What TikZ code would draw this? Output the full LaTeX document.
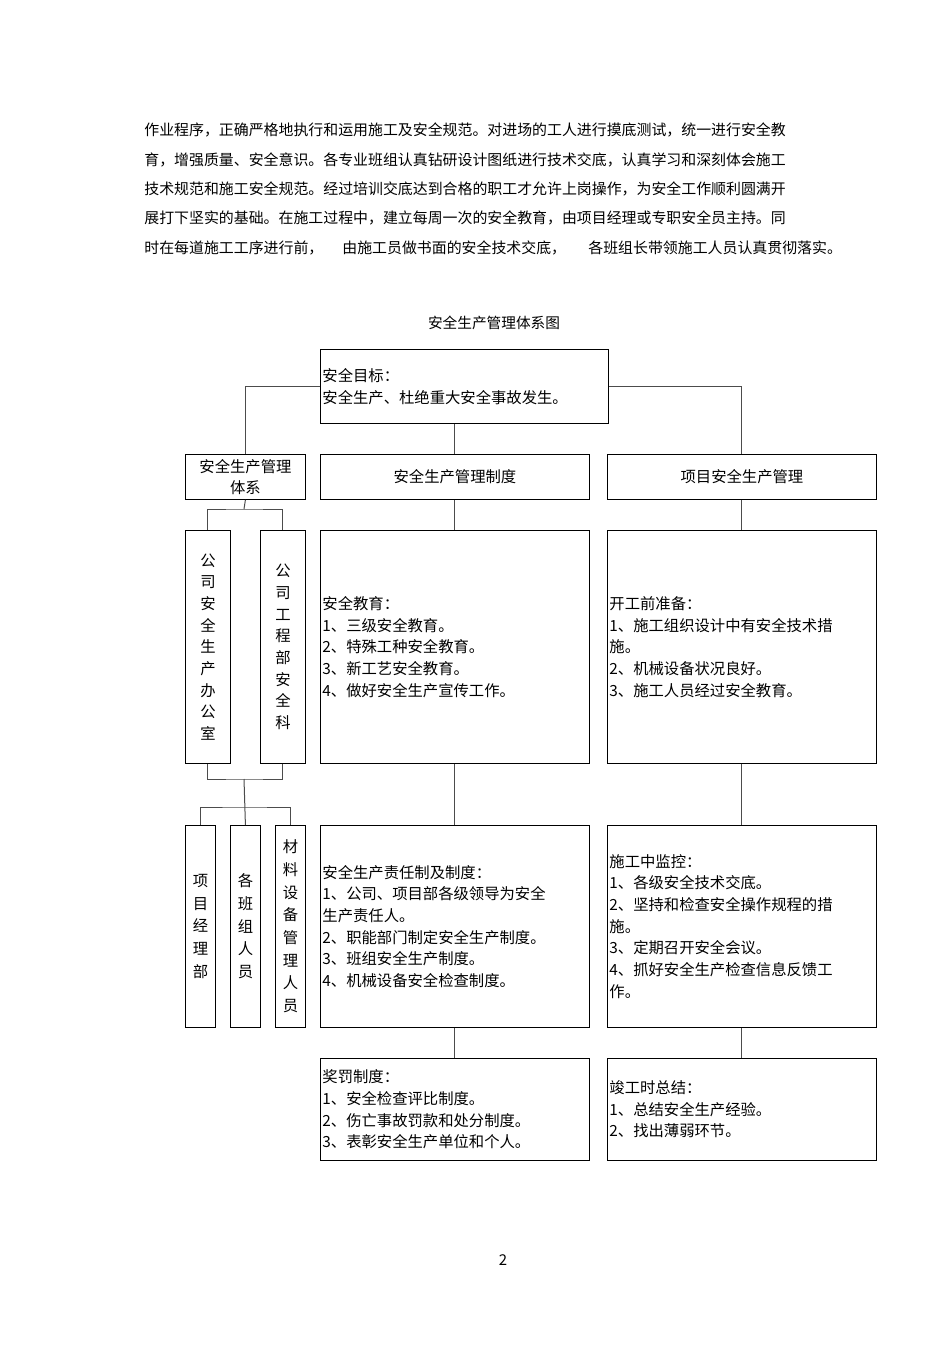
\documentclass[tikz,border=0pt]{standalone}
\usepackage{fontspec}
\setmainfont{Noto Sans CJK SC}
\usepackage{tikz}
\usetikzlibrary{shadows}
\newlength{\unitpx}
\setlength{\unitpx}{0.6pt}
\newcommand{\boxfont}{\fontsize{9.2pt}{13pt}\selectfont}
\newcommand{\lowfont}{\fontsize{9.2pt}{13.6pt}\selectfont}
\newcommand{\parafont}{\fontsize{8.95pt}{12pt}\selectfont}

\tikzset{
    frame/.style={draw=black, line width=0.5pt, fill=white, inner ysep=0pt,
        drop shadow={shadow xshift=0.5pt, shadow yshift=-0.5pt, fill=black, opacity=1}},
    listbox/.style 2 args={frame, anchor=north west, inner xsep=2\unitpx, font=\boxfont, align=left,
        minimum width=#1\unitpx, minimum height=#2\unitpx, text width=#1\unitpx-4\unitpx},
    headbox/.style 2 args={frame, anchor=north west, inner xsep=0pt, font=\boxfont, align=center,
        minimum width=#1\unitpx, minimum height=#2\unitpx},
    link/.style={draw=black!70, line width=0.6pt},
    paraline/.style={anchor=west, inner sep=0pt, font=\parafont},
}

\begin{document}
\begin{tikzpicture}[x=\unitpx, y=-\unitpx]
    \path[use as bounding box, fill=white] (0,0) rectangle (950,1345);

    % text above the chart
    \node[paraline] (p1) at (144,130) {作业程序，正确严格地执行和运用施工及安全规范。对进场的工人进行摸底测试，统一进行安全教};
    \node[paraline] (p2) at (144,160) {育，增强质量、安全意识。各专业班组认真钻研设计图纸进行技术交底，认真学习和深刻体会施工};
    \node[paraline] (p3) at (144,189) {技术规范和施工安全规范。经过培训交底达到合格的职工才允许上岗操作，为安全工作顺利圆满开};
    \node[paraline] (p4) at (144,218) {展打下坚实的基础。在施工过程中，建立每周一次的安全教育，由项目经理或专职安全员主持。同};
    \node[paraline] (p5a) at (144,248) {时在每道施工工序进行前，};
    \node[paraline] (p5b) at (342,248) {由施工员做书面的安全技术交底，};
    \node[paraline] (p5c) at (588,248) {各班组长带领施工人员认真贯彻落实。};

    \node[font=\fontsize{8.8pt}{12pt}\selectfont] (title) at (494,323) {安全生产管理体系图};

    % top and second row
    \node[listbox={288}{74}] (goal) at (320,349) {安全目标：\\安全生产、杜绝重大安全事故发生。};
    \node[headbox={120}{45}] (sys) at (185,454) {安全生产管理\\体系};
    \node[headbox={269}{45}] (rules) at (320,454) {安全生产管理制度};
    \node[headbox={269}{45}] (proj) at (607,454) {项目安全生产管理};

    % left column
    \node[headbox={45}{233}] (office) at (185,530) {公\\司\\安\\全\\生\\产\\办\\公\\室};
    \node[headbox={45}{233}] (dept) at (260,530) {公\\司\\工\\程\\部\\安\\全\\科};
    \node[headbox={30}{202}, font=\lowfont] (pm) at (185,825) {项\\目\\经\\理\\部};
    \node[headbox={30}{202}, font=\lowfont] (crew) at (230,825) {各\\班\\组\\人\\员};
    \node[headbox={30}{202}, font=\lowfont] (mat) at (275,825) {材\\料\\设\\备\\管\\理\\人\\员};

    % middle column
    \node[listbox={269}{233}] (edu) at (320,530) {安全教育：\\1、三级安全教育。\\2、特殊工种安全教育。\\3、新工艺安全教育。\\4、做好安全生产宣传工作。};
    \node[listbox={269}{202}] (resp) at (320,825) {安全生产责任制及制度：\\1、公司、项目部各级领导为安全\\生产责任人。\\2、职能部门制定安全生产制度。\\3、班组安全生产制度。\\4、机械设备安全检查制度。};
    \node[listbox={269}{102}] (reward) at (320,1058) {奖罚制度：\\1、安全检查评比制度。\\2、伤亡事故罚款和处分制度。\\3、表彰安全生产单位和个人。};

    % right column
    \node[listbox={269}{233}] (prep) at (607,530) {开工前准备：\\1、施工组织设计中有安全技术措\\施。\\2、机械设备状况良好。\\3、施工人员经过安全教育。};
    \node[listbox={269}{202}] (monitor) at (607,825) {施工中监控：\\1、各级安全技术交底。\\2、坚持和检查安全操作规程的措\\施。\\3、定期召开安全会议。\\4、抓好安全生产检查信息反馈工\\作。};
    \node[listbox={269}{102}] (sumup) at (607,1058) {竣工时总结：\\1、总结安全生产经验。\\2、找出薄弱环节。};

    \node[font=\parafont] (pageno) at (503,1260) {2};

    % connectors
    \coordinate (sysjoin) at (244,509);
    \coordinate (upjoin) at (244,779);
    \coordinate (lowjoin) at (244,807);
    \draw[link] (goal.west) -| (sys.north);
    \draw[link] (goal.east) -| (proj.north);
    \draw[link] (rules.north) -- (rules.north |- goal.south);
    \draw[link] (sys.south) -- (sysjoin);
    \draw[link] (office.north) |- (sysjoin) -| (dept.north);
    \draw[link] (office.south) |- (upjoin) -| (dept.south);
    \draw[link] (upjoin) -- (crew.north);
    \draw[link] (pm.north) |- (lowjoin) -| (mat.north);
    \draw[link] (rules.south) -- (edu.north);
    \draw[link] (edu.south) -- (resp.north);
    \draw[link] (resp.south) -- (reward.north);
    \draw[link] (proj.south) -- (prep.north);
    \draw[link] (prep.south) -- (monitor.north);
    \draw[link] (monitor.south) -- (sumup.north);
\end{tikzpicture}
\end{document}
